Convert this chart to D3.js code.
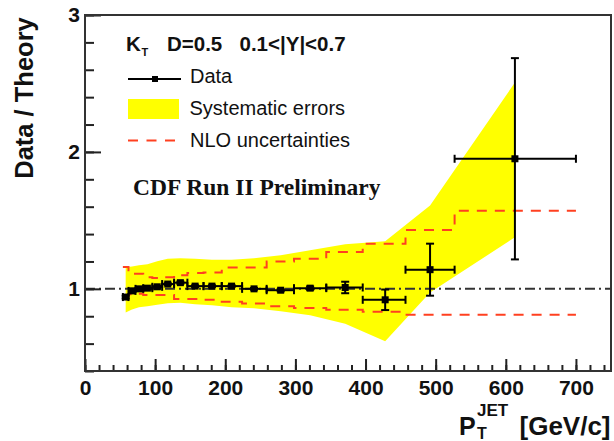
<!DOCTYPE html>
<html>
<head>
<meta charset="utf-8">
<script src="https://cdn.jsdelivr.net/npm/d3@7"></script>
<style>
  html, body { margin: 0; padding: 0; background: #ffffff; }
  svg { display: block; }
</style>
</head>
<body>
<script>
// ---------------- data ----------------
const pT       = [58, 67, 77, 89, 103, 118, 136, 157, 181, 209, 241, 279, 321, 371, 428, 492, 613];
const ratio    = [0.94, 0.985, 1.0, 1.005, 1.015, 1.035, 1.045, 1.02, 1.02, 1.02, 1.0, 0.99, 1.005, 1.01, 0.92, 1.14, 1.95];
const statErr  = [0.01, 0.008, 0.006, 0.006, 0.006, 0.006, 0.008, 0.006, 0.006, 0.006, 0.006, 0.008, 0.012, 0.042, 0.075, 0.19, 0.735];
const binLow   = [54, 62, 72, 83, 96, 110, 127, 146, 169, 195, 224, 259, 298, 344, 396, 457, 527];
const binHigh  = [62, 72, 83, 96, 110, 127, 146, 169, 195, 224, 259, 298, 344, 396, 457, 527, 700];
const sysLow   = [0.828, 0.850, 0.865, 0.872, 0.883, 0.894, 0.898, 0.887, 0.880, 0.865, 0.858, 0.836, 0.807, 0.745, 0.617, 0.974, 1.376];
const sysHigh  = [1.157, 1.164, 1.172, 1.179, 1.201, 1.219, 1.223, 1.219, 1.212, 1.212, 1.223, 1.245, 1.281, 1.325, 1.347, 1.609, 2.507];
const nloUp    = [1.16, 1.11, 1.11, 1.085, 1.08, 1.085, 1.10, 1.115, 1.12, 1.155, 1.155, 1.20, 1.22, 1.27, 1.33, 1.43, 1.57];
const nloDown  = [0.95, 0.96, 0.965, 0.955, 0.955, 0.955, 0.925, 0.925, 0.92, 0.905, 0.893, 0.873, 0.86, 0.847, 0.832, 0.81, 0.81];
const xMajorTicks = [0, 100, 200, 300, 400, 500, 600, 700];
const yMajorTicks = [1, 2, 3];

// ---------------- setup ----------------
const W = 614, H = 441;
const svg = d3.select("body").append("svg").attr("width", W).attr("height", H);
const SANS = "'Liberation Sans', Arial, Helvetica, sans-serif";
const SERIF = "'Liberation Serif', 'Times New Roman', serif";

const x = d3.scaleLinear().domain([0, 750]).range([85, 611]);
const y = d3.scaleLinear().domain([0.4, 3]).range([371, 15]);

const NLO_COLOR = "#ff4020";

// ---------------- systematic band ----------------
const bandData = pT.map((p, i) => ({ p, lo: sysLow[i], hi: sysHigh[i] }));
svg.append("path")
  .datum(bandData)
  .attr("fill", "#ffff00")
  .attr("d", d3.area().x(d => x(d.p)).y0(d => y(d.lo)).y1(d => y(d.hi)));

// ---------------- NLO uncertainty histograms ----------------
function histPoints(vals) {
  const pts = [];
  vals.forEach((v, i) => { pts.push([binLow[i], v]); pts.push([binHigh[i], v]); });
  return pts;
}
const nloLine = d3.line().x(d => x(d[0])).y(d => y(d[1]));
[nloUp, nloDown].forEach(vals => {
  svg.append("path")
    .datum(histPoints(vals))
    .attr("fill", "none")
    .attr("stroke", NLO_COLOR)
    .attr("stroke-width", 2)
    .attr("stroke-dasharray", "10,8")
    .attr("d", nloLine);
});

// ---------------- reference line at 1 ----------------
svg.append("line")
  .attr("x1", x(0)).attr("x2", x(750))
  .attr("y1", y(1)).attr("y2", y(1))
  .attr("stroke", "#333")
  .attr("stroke-width", 2)
  .attr("stroke-dasharray", "10,4,2,4");

// ---------------- axes ----------------
const xMinorTicks = d3.range(0, 751, 20);
const yMinorTicks = d3.range(0.4, 3.001, 0.2).map(v => +v.toFixed(2));

const gxMinor = svg.append("g").attr("transform", `translate(0,${y(0.4)})`)
  .call(d3.axisBottom(x).tickValues(xMinorTicks).tickSizeInner(-6).tickSizeOuter(0).tickFormat(""));
const gx = svg.append("g").attr("transform", `translate(0,${y(0.4)})`)
  .call(d3.axisBottom(x).tickValues(xMajorTicks).tickSizeInner(-12).tickSizeOuter(0).tickPadding(9).tickFormat(d3.format("d")));
const gyMinor = svg.append("g").attr("transform", `translate(${x(0)},0)`)
  .call(d3.axisLeft(y).tickValues(yMinorTicks).tickSizeInner(-9).tickSizeOuter(0).tickFormat(""));
const gy = svg.append("g").attr("transform", `translate(${x(0)},0)`)
  .call(d3.axisLeft(y).tickValues(yMajorTicks).tickSizeInner(-16).tickSizeOuter(0).tickPadding(5).tickFormat(d3.format("d")));

[gxMinor, gx, gyMinor, gy].forEach(g => {
  g.select(".domain").remove();
  g.selectAll(".tick line").attr("stroke", "#222").attr("stroke-width", 2);
  g.selectAll("text").attr("font-family", SANS).attr("font-weight", "bold").attr("font-size", 21).attr("fill", "#111");
});

// frame
svg.append("rect")
  .attr("x", x(0)).attr("y", y(3))
  .attr("width", x(750) - x(0)).attr("height", y(0.4) - y(3))
  .attr("fill", "none").attr("stroke", "#333").attr("stroke-width", 2);

// ---------------- data points with error bars ----------------
const cap = 4;
const gd = svg.append("g").attr("stroke", "#000").attr("stroke-width", 2);
pT.forEach((p, i) => {
  const cx = x(p), cy = y(ratio[i]);
  const xl = x(binLow[i]), xh = x(binHigh[i]);
  const yt = y(ratio[i] + statErr[i]), yb = y(ratio[i] - statErr[i]);
  // horizontal bar + caps
  gd.append("line").attr("x1", xl).attr("x2", xh).attr("y1", cy).attr("y2", cy);
  gd.append("line").attr("x1", xl).attr("x2", xl).attr("y1", cy - cap).attr("y2", cy + cap);
  gd.append("line").attr("x1", xh).attr("x2", xh).attr("y1", cy - cap).attr("y2", cy + cap);
  // vertical bar + caps
  gd.append("line").attr("x1", cx).attr("x2", cx).attr("y1", yt).attr("y2", yb);
  gd.append("line").attr("x1", cx - cap).attr("x2", cx + cap).attr("y1", yt).attr("y2", yt);
  gd.append("line").attr("x1", cx - cap).attr("x2", cx + cap).attr("y1", yb).attr("y2", yb);
});
svg.append("g").selectAll("rect").data(pT).join("rect")
  .attr("x", (d) => x(d) - 3.5)
  .attr("y", (d, i) => y(ratio[i]) - 3.5)
  .attr("width", 7).attr("height", 7)
  .attr("fill", "#000");

// ---------------- legend & labels ----------------
const title = svg.append("g").attr("font-family", SANS).attr("font-weight", "bold").attr("fill", "#111");
title.append("text").attr("x", 126).attr("y", 51).attr("font-size", 20.5).text("K");
title.append("text").attr("x", 141.5).attr("y", 56).attr("font-size", 11).text("T");
title.append("text").attr("x", 167).attr("y", 51).attr("font-size", 20.5).text("D=0.5");
title.append("text").attr("x", 239.5).attr("y", 51).attr("font-size", 20.5).text("0.1<|Y|<0.7");

// Data entry
svg.append("line").attr("x1", 128).attr("x2", 181).attr("y1", 79).attr("y2", 79)
  .attr("stroke", "#000").attr("stroke-width", 2);
svg.append("rect").attr("x", 152).attr("y", 76).attr("width", 6).attr("height", 6).attr("fill", "#000");
// Systematic entry
svg.append("rect").attr("x", 128).attr("y", 99).attr("width", 51).attr("height", 20).attr("fill", "#ffff00");
// NLO entry
svg.append("line").attr("x1", 128).attr("x2", 176).attr("y1", 140.5).attr("y2", 140.5)
  .attr("stroke", NLO_COLOR).attr("stroke-width", 2).attr("stroke-dasharray", "10,8.5");

const leg = svg.append("g").attr("font-family", SANS).attr("font-size", 20).attr("fill", "#111");
leg.append("text").attr("x", 190).attr("y", 83).text("Data");
leg.append("text").attr("x", 189.5).attr("y", 115).text("Systematic errors");
leg.append("text").attr("x", 190).attr("y", 147).text("NLO uncertainties");

svg.append("text").attr("x", 133).attr("y", 195)
  .attr("font-family", SERIF).attr("font-weight", "bold").attr("font-size", 23.5).attr("fill", "#111")
  .text("CDF Run II Preliminary");

// y axis title
svg.append("text")
  .attr("transform", "translate(33,98) rotate(-90)")
  .attr("text-anchor", "middle")
  .attr("font-family", SANS).attr("font-weight", "bold").attr("font-size", 25.5).attr("fill", "#111")
  .text("Data / Theory");

// x axis title
const xt = svg.append("g").attr("font-family", SANS).attr("font-weight", "bold").attr("fill", "#111");
xt.append("text").attr("x", 459).attr("y", 435).attr("font-size", 25).text("P");
xt.append("text").attr("x", 477).attr("y", 416).attr("font-size", 17).text("JET");
xt.append("text").attr("x", 477).attr("y", 439).attr("font-size", 16).text("T");
xt.append("text").attr("x", 519.5).attr("y", 435).attr("font-size", 26).text("[GeV/c]");
</script>
</body>
</html>
